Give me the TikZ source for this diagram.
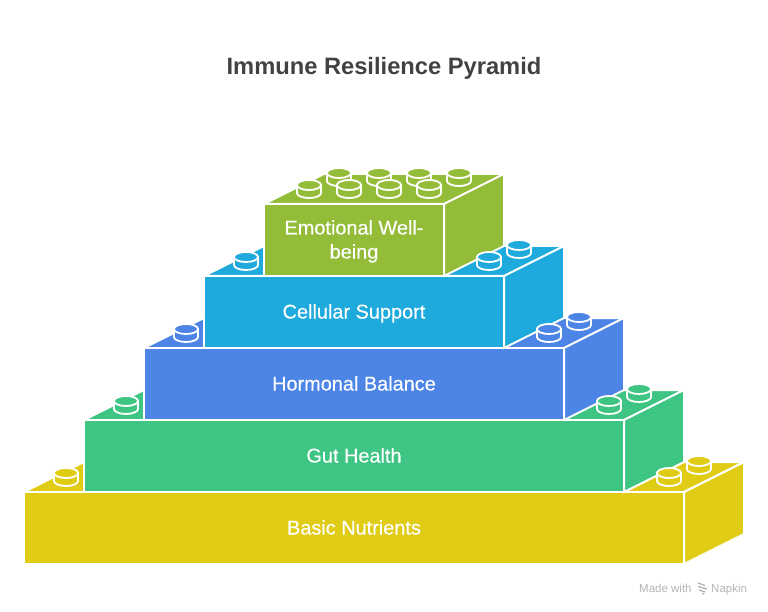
\documentclass[tikz,border=0pt]{standalone}
\usepackage{fontspec}
\setmainfont{Liberation Sans}
\newfontfamily\labfont[FakeBold=0.25]{Liberation Sans}
\definecolor{cyel}{HTML}{E0CB15}
\definecolor{cgrn}{HTML}{3EC583}
\definecolor{cblu}{HTML}{4C85E6}
\definecolor{ccya}{HTML}{1EAADC}
\definecolor{coli}{HTML}{93BC38}
\definecolor{ctitle}{HTML}{424242}
\definecolor{cmark}{HTML}{B4B4B4}
\tikzset{
  brick/.style={draw=white,line width=2pt,line join=miter},
  studline/.style={draw=white,line width=1.8pt},
  lab/.style={text=white,font=\labfont\fontsize{19.9}{24}\selectfont,align=center,inner sep=0pt,anchor=base},
  ttl/.style={text=ctitle,font=\fontsize{23.7}{28}\selectfont\bfseries,inner sep=0pt,anchor=base},
  madewith/.style={text=cmark,font=\fontsize{11.5}{13}\selectfont,inner sep=0pt,anchor=base west},
}
% block: left, top, right, bottom, colour
\newcommand{\legoblock}[5]{%
  \path[brick,fill=#5] (#1,#2) -- ++(60,-30) -- (#3+60,#2-30) -- (#3,#2) -- cycle;
  \path[brick,fill=#5] (#3,#2) -- (#3+60,#2-30) -- (#3+60,#4-30) -- (#3,#4) -- cycle;
  \path[brick,fill=#5] (#1,#2) rectangle (#3,#4);
}
% stud: centre of top ellipse, colour
\newcommand{\legostud}[3]{%
  \path[studline,fill=#3] (#1-12,#2) -- (#1-12,#2+8) arc[start angle=180,end angle=0,x radius=12,y radius=5] -- (#1+12,#2) -- cycle;
  \path[studline,fill=#3] (#1,#2) ellipse[x radius=12,y radius=5];
}
\begin{document}
\begin{tikzpicture}[x=1pt,y=-1pt]
\useasboundingbox (0,0) rectangle (768,612);
\legoblock{24}{492}{684}{564}{cyel}
\legoblock{84}{420}{624}{492}{cgrn}
\legoblock{144}{348}{564}{420}{cblu}
\legoblock{204}{276}{504}{348}{ccya}
\legoblock{264}{204}{444}{276}{coli}
\legostud{66}{473}{cyel}\legostud{699}{461}{cyel}\legostud{669}{473}{cyel}
\legostud{126}{401}{cgrn}\legostud{639}{389}{cgrn}\legostud{609}{401}{cgrn}
\legostud{186}{329}{cblu}\legostud{579}{317}{cblu}\legostud{549}{329}{cblu}
\legostud{246}{257}{ccya}\legostud{519}{245}{ccya}\legostud{489}{257}{ccya}
\legostud{339}{173}{coli}\legostud{379}{173}{coli}\legostud{419}{173}{coli}\legostud{459}{173}{coli}
\legostud{309}{185}{coli}\legostud{349}{185}{coli}\legostud{389}{185}{coli}\legostud{429}{185}{coli}
\node[ttl] (title) at (384,75) {Immune Resilience Pyramid};
\node[lab] (l1) at (354,534.5) {Basic Nutrients};
\node[lab] (l2) at (354,462.5) {Gut Health};
\node[lab] (l3) at (354,390.5) {Hormonal Balance};
\node[lab] (l4) at (354,318.5) {Cellular Support};
\node[lab] (l5a) at (354,234.5) {Emotional Well-};
\node[lab] (l5b) at (354,258.5) {being};
\node[madewith] (m1) at (639,592) {Made with};
\node[madewith] (m2) at (711,592) {Napkin};
\draw[cmark,line width=1.3pt] (698,583)--(705,585.5) (698,586.5)--(707,589) (699,590)--(705,592) (702,593.5)--(704,594);
\end{tikzpicture}
\end{document}
